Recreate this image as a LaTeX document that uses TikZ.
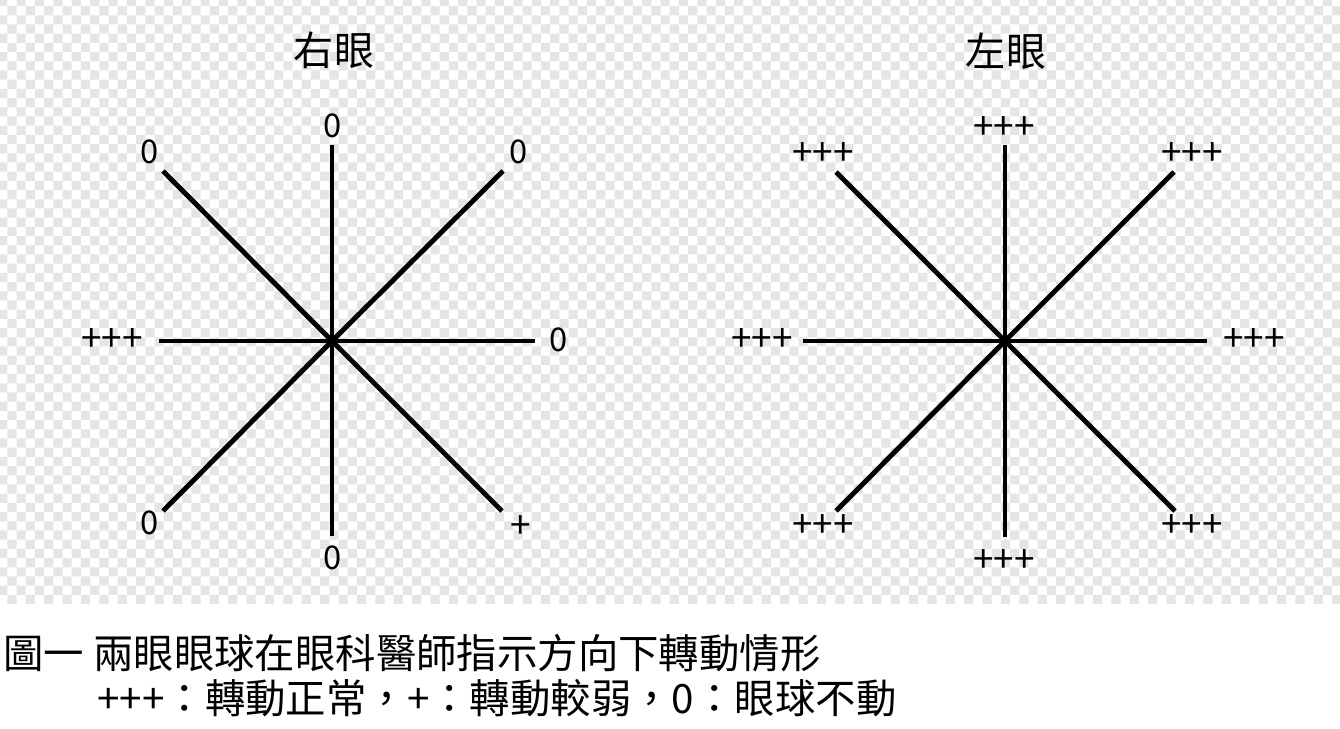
\documentclass[tikz,border=0pt]{standalone}
\usepackage{fontspec}
\setmainfont{Noto Sans CJK TC}

\begin{document}
\begin{tikzpicture}[x=0.02cm,y=-0.02cm,
  spoke/.style={line width=2.8pt},
  check/.style={fill=black!10},
  title node/.style={inner sep=0pt,font=\fontsize{22.8}{26}\selectfont},
  zero node/.style={inner sep=0pt,font=\fontsize{18.6}{22}\selectfont},
  plus node/.style={inner sep=0pt,font=\fontsize{21}{24}\selectfont},
  caption node/.style={inner sep=0pt,anchor=west,font=\fontsize{23}{27}\selectfont}]

  \useasboundingbox (0,0) rectangle (1340,729);

  % checks behind the two eyes
  \foreach \j in {0,...,65}{
    \pgfmathtruncatemacro\off{mod(\j,2)}
    \fill[check] \foreach \i in {0,2,...,144}{
      ({-1.9+(\i+\off)*9.2},{-3.1+\j*9.2}) rectangle ++(9.2,9.2)};
  }

  % right eye
  \coordinate (rc) at (332,341);
  \coordinate (rn) at (332,145);
  \coordinate (rs) at (332,536);
  \coordinate (rw) at (159,341);
  \coordinate (re) at (535,341);
  \coordinate (rnw) at (163,171);
  \coordinate (rne) at (503,171);
  \coordinate (rsw) at (163,511);
  \coordinate (rse) at (502,511);

  \path[spoke] (rc) edge (rn) edge (rs) edge (rw) edge (re)
    edge (rnw) edge (rne) edge (rsw) edge (rse);

  \node[title node] (rtitle) at (334,50) {右眼};
  \node[zero node] (rn0) at (333,126) {0};
  \node[zero node] (rnw0) at (150,152) {0};
  \node[zero node] (rne0) at (519,152) {0};
  \node[plus node] (rw0) at (112,340) {+++};
  \node[zero node] (re0) at (559,340) {0};
  \node[zero node] (rsw0) at (150,523) {0};
  \node[plus node] (rse0) at (521,527) {+};
  \node[zero node] (rs0) at (333,558) {0};

  % left eye
  \coordinate (lc) at (1005,341);
  \coordinate (ln) at (1005,145);
  \coordinate (ls) at (1005,537);
  \coordinate (lw) at (803,341);
  \coordinate (le) at (1207,341);
  \coordinate (lnw) at (836,172);
  \coordinate (lne) at (1174,172);
  \coordinate (lsw) at (836,511);
  \coordinate (lse) at (1175,511);

  \path[spoke] (lc) edge (ln) edge (ls) edge (lw) edge (le)
    edge (lnw) edge (lne) edge (lsw) edge (lse);

  \node[title node] (ltitle) at (1006,51) {左眼};
  \node[plus node] (ln0) at (1004,128) {+++};
  \node[plus node] (lnw0) at (823,154) {+++};
  \node[plus node] (lne0) at (1192,154) {+++};
  \node[plus node] (lw0) at (762,340) {+++};
  \node[plus node] (le0) at (1254,340) {+++};
  \node[plus node] (lsw0) at (823,526) {+++};
  \node[plus node] (lse0) at (1192,526) {+++};
  \node[plus node] (ls0) at (1004,561) {+++};

  % caption
  \node[caption node] (cap1) at (3,653) {圖一 兩眼眼球在眼科醫師指示方向下轉動情形};
  \node[caption node] (cap2) at (97,698) {+++：轉動正常，+：轉動較弱，0：眼球不動};
\end{tikzpicture}
\end{document}
